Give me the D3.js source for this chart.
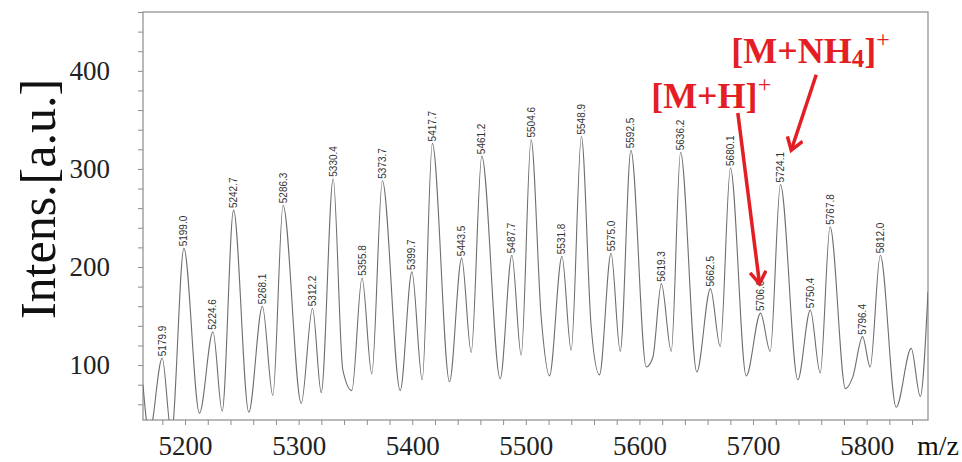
<!DOCTYPE html>
<html>
<head>
<meta charset="utf-8">
<script src="https://cdn.jsdelivr.net/npm/d3@7"></script>
<style>
body { margin: 0; background: #fff; }
</style>
</head>
<body>
<svg id="chart" width="962" height="462"></svg>
<script>
// labelled peaks (m/z) and their heights
let peakMz = [5179.9, 5199.0, 5224.6, 5242.7, 5268.1, 5286.3, 5312.2, 5330.4, 5355.8, 5373.7,
	5399.7, 5417.7, 5443.5, 5461.2, 5487.7, 5504.6, 5531.8, 5548.9, 5575.0, 5592.5,
	5619.3, 5636.2, 5662.5, 5680.1, 5706.6, 5724.1, 5750.4, 5767.8, 5796.4, 5812.0];
let peakInt = [107, 219, 134, 258, 160, 263, 158, 290, 189, 288,
	195, 326, 209, 313, 212, 330, 211, 333, 214, 319,
	183, 317, 178, 301, 153, 284, 156, 241, 129, 212];

// spectrum trace: tops, valleys and shoulders
let traceMz = [5163, 5168.5, 5179.9, 5188, 5199.0, 5212.7, 5224.6, 5232.7, 5242.7, 5256.1,
	5268.1, 5277.3, 5286.3, 5302.3, 5312.2, 5319.9, 5330.4, 5338.9, 5346.8, 5355.8,
	5364.4, 5373.7, 5389.4, 5399.7, 5408.8, 5417.7, 5432.8, 5443.5, 5451.9, 5461.2,
	5477.4, 5487.7, 5495.9, 5504.6, 5513.5, 5520.8, 5531.8, 5539.9, 5548.9, 5557.5,
	5564.8, 5575.0, 5583.1, 5592.5, 5606, 5611.8, 5619.3, 5628, 5636.2, 5650.5,
	5662.5, 5671.1, 5680.1, 5694, 5706.6, 5715.1, 5724.1, 5739.4, 5750.4, 5759.1,
	5767.8, 5781.4, 5787.8, 5796.4, 5803.1, 5812.0, 5826, 5839.2, 5847.2, 5854];
let traceInt = [80, 30, 107, 30, 219, 51, 134, 53, 258, 52,
	160, 69, 263, 61, 158, 72, 290, 95, 74, 189,
	91, 288, 74, 195, 85, 326, 83, 209, 113, 313,
	86, 212, 110, 330, 149, 89, 211, 115, 333, 139,
	90, 214, 114, 319, 98, 108, 183, 114, 317, 93,
	178, 119, 301, 89, 153, 114, 284, 85, 156, 92,
	241, 76, 88, 129, 98, 212, 57, 117, 68, 175];

let xLabels = [5200, 5300, 5400, 5500, 5600, 5700, 5800];
let yLabels = [100, 200, 300, 400];

// ion annotations: text anchor and arrow, in data units
let ionText = ["[M+H]", "[M+NH"];
let ionTextMz = [5610.3, 5680.8];
let ionTextInt = [362, 408];
let arrowFrom = [[5686.6, 357], [5755.6, 396]];
let arrowTo = [[5705.7, 183], [5733.6, 319]];

let serif = "'Liberation Serif', 'Times New Roman', serif";
let sans = "'Liberation Sans', Arial, sans-serif";
let red = "#e31e24";
let frameColor = "#8c8c8c";

let svg = d3.select("#chart");

let x = d3.scaleLinear().domain([5163, 5854]).range([143, 928]);
let y = d3.scaleLinear().domain([44, 460]).range([420, 12]);

svg.append("defs").append("clipPath").attr("id", "plotclip")
	.append("rect")
	.attr("x", 143).attr("y", 12)
	.attr("width", 785).attr("height", 408);

// axes (ticks every 20, labels only on round hundreds)
let xAxis = svg.append("g")
	.attr("transform", "translate(0,420)")
	.call(d3.axisBottom(x)
		.tickValues(d3.range(5180, 5841, 20))
		.tickSize(5)
		.tickPadding(11)
		.tickFormat(d => xLabels.includes(d) ? d : ""));

let yAxis = svg.append("g")
	.attr("transform", "translate(143,0)")
	.call(d3.axisLeft(y)
		.tickValues(d3.range(60, 461, 20))
		.tickSize(5)
		.tickPadding(28)
		.tickFormat(d => yLabels.includes(d) ? d : ""));

[xAxis, yAxis].forEach(a => {
	a.attr("font-family", serif);
	a.select(".domain").remove();
	a.selectAll("line").attr("stroke", frameColor);
	a.selectAll("text")
		.attr("fill", "#222")
		.attr("font-family", serif);
});
xAxis.attr("font-size", "27px").selectAll("text").attr("font-size", "27px");
yAxis.attr("font-size", "27px").selectAll("text").attr("font-size", "27px");

svg.append("rect")
	.attr("x", 143).attr("y", 12)
	.attr("width", 785).attr("height", 408)
	.attr("fill", "none")
	.attr("stroke", frameColor)
	.attr("stroke-width", 1.2);

// spectrum
let line = d3.line()
	.x((d, i) => x(traceMz[i]))
	.y((d, i) => y(traceInt[i]))
	.curve(d3.curveMonotoneX);

svg.append("path")
	.attr("clip-path", "url(#plotclip)")
	.attr("d", line(traceMz))
	.attr("fill", "none")
	.attr("stroke", "#6e6e6e")
	.attr("stroke-width", 1.1);

// peak labels
svg.append("g").selectAll("text")
	.data(peakMz).enter()
	.append("text")
	.attr("transform", (d, i) => "translate(" + (x(d) + 3.5) + "," + (y(peakInt[i]) - 2) + ") rotate(-90)")
	.attr("font-family", sans)
	.attr("font-size", "10px")
	.attr("fill", "#333")
	.text(d => d.toFixed(1));

// axis titles
svg.append("text")
	.attr("transform", "translate(55,199) rotate(-90)")
	.attr("text-anchor", "middle")
	.attr("font-family", serif)
	.attr("font-size", "50px")
	.attr("fill", "#111")
	.text("Intens.[a.u.]");

svg.append("text")
	.attr("x", 917).attr("y", 455)
	.attr("font-family", serif)
	.attr("font-size", "28px")
	.attr("fill", "#111")
	.text("m/z");

// annotations
let defs = svg.select("defs");
defs.append("marker")
	.attr("id", "head")
	.attr("viewBox", "0 -9 16 18")
	.attr("refX", 13).attr("refY", 0)
	.attr("markerWidth", 16).attr("markerHeight", 18)
	.attr("markerUnits", "userSpaceOnUse")
	.attr("orient", "auto")
	.append("path")
	.attr("d", "M1,-8 L13,0 L1,8")
	.attr("fill", "none")
	.attr("stroke", red)
	.attr("stroke-width", 3.5);

svg.append("g").selectAll("line")
	.data(arrowFrom).enter()
	.append("line")
	.attr("x1", d => x(d[0])).attr("y1", d => y(d[1]))
	.attr("x2", (d, i) => x(arrowTo[i][0])).attr("y2", (d, i) => y(arrowTo[i][1]))
	.attr("stroke", red)
	.attr("stroke-width", 3.5)
	.attr("marker-end", "url(#head)");

let ions = svg.append("g").selectAll("text")
	.data(ionText).enter()
	.append("text")
	.attr("x", (d, i) => x(ionTextMz[i]))
	.attr("y", (d, i) => y(ionTextInt[i]))
	.attr("font-family", serif)
	.attr("font-weight", "bold")
	.attr("font-size", "36px")
	.attr("fill", red);

ions.append("tspan").text(d => d);
ions.filter((d, i) => i == 1).append("tspan")
	.attr("dy", 4).attr("font-size", "25px").text("4");
ions.filter((d, i) => i == 1).append("tspan")
	.attr("dy", -4).text("]");
ions.append("tspan")
	.attr("dy", -16).attr("font-size", "24px").attr("font-weight", "normal").text("+");
</script>
</body>
</html>
